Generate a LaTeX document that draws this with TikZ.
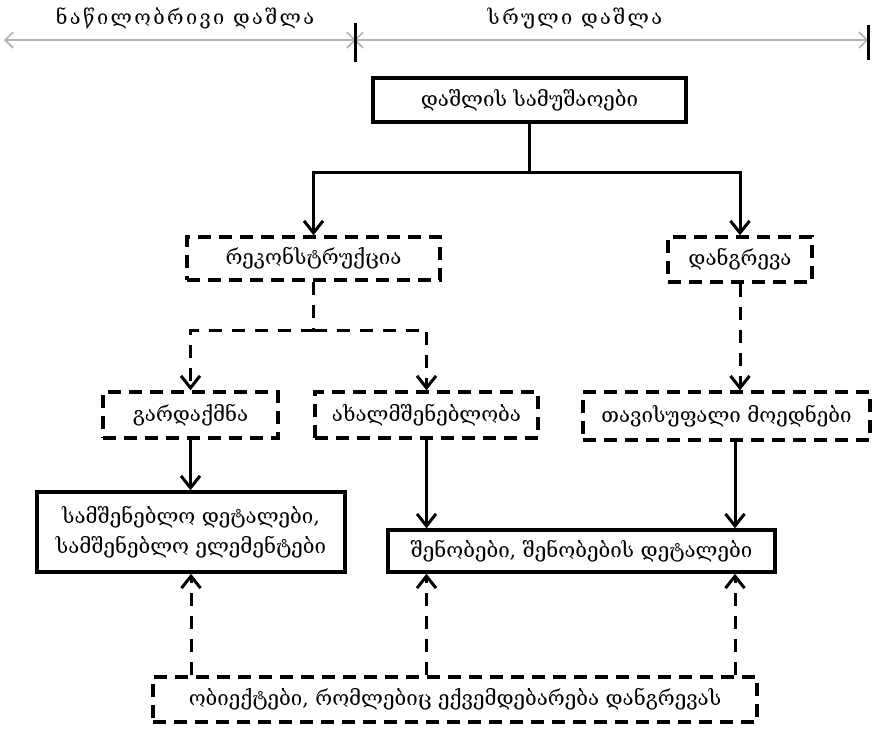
\documentclass[tikz,border=0pt]{standalone}
\usepackage{fontspec}
\setmainfont{DejaVu Serif}
\newfontfamily\spacedfont[LetterSpace=12]{DejaVu Serif}
\usetikzlibrary{arrows.meta}
\begin{document}
\begin{tikzpicture}[x=1pt,y=-1pt,
  solidbox/.style={draw=black,line width=3.4pt,rectangle,inner sep=0pt,font=\fontsize{20.5}{30}\selectfont,align=center},
  dashbox/.style={draw=black,line width=3.4pt,rectangle,inner sep=0pt,dash pattern=on 13pt off 8pt,font=\fontsize{20.5}{30}\selectfont,align=center},
  conn/.style={line width=3pt,-{Straight Barb[length=12pt,width=19pt,line width=3pt]}},
  dconn/.style={conn,dash pattern=on 13pt off 10pt},
  dline/.style={line width=3pt,dash pattern=on 13pt off 10pt},
  grayarrow/.style={gray!60,line width=2.6pt,-{Straight Barb[length=8pt,width=16pt,line width=1.6pt]}},
  tick/.style={line width=3pt},
  toplabel/.style={font=\spacedfont\fontsize{20}{26}\selectfont,inner sep=0pt}
]
\useasboundingbox (0,0) rectangle (873,729);
% top scale
\coordinate (L) at (4,40);
\coordinate (M) at (355,40);
\coordinate (R) at (868,40);
\draw[grayarrow] (M) -- (L);
\draw[grayarrow] ([xshift=10pt]M) -- ([xshift=-1pt]M);
\draw[grayarrow] ([xshift=-10pt]M) -- ([xshift=1pt]M);
\draw[grayarrow] (M) -- (R);
\draw[tick] ([yshift=-22pt]M) -- ([yshift=17pt]M);
\draw[tick] ([yshift=-20pt]R) -- ([yshift=15pt]R);
\node[toplabel] (lp) at (185,18) {ნაწილობრივი დაშლა};
\node[toplabel] (lf) at (575,18) {სრული დაშლა};
% boxes
\node[solidbox,minimum width=313pt,minimum height=44pt] (top) at (529.5,100) {დაშლის სამუშაოები};
\node[dashbox,minimum width=253pt,minimum height=43pt] (rek) at (313.5,258.5) {რეკონსტრუქცია};
\node[dashbox,minimum width=144pt,minimum height=45pt] (dan) at (740,259.5) {დანგრევა};
\node[dashbox,minimum width=175pt,minimum height=46pt] (gar) at (190.5,415) {გარდაქმნა};
\node[dashbox,minimum width=223pt,minimum height=46pt] (akh) at (426.5,415) {ახალმშენებლობა};
\node[dashbox,minimum width=287pt,minimum height=48pt] (tav) at (726.5,416) {თავისუფალი მოედნები};
\node[solidbox,minimum width=308pt,minimum height=80pt] (sam) at (191,532) {სამშენებლო დეტალები,\\სამშენებლო ელემენტები};
\node[solidbox,minimum width=387pt,minimum height=42pt] (shen) at (581.5,551) {შენობები, შენობების დეტალები};
\node[dashbox,minimum width=604pt,minimum height=45pt] (obi) at (455,699.5) {ობიექტები, რომლებიც ექვემდებარება დანგრევას};
% connectors
\coordinate (j1) at (top.south |- 0,172);
\draw[line width=3pt] (top.south) -- (j1);
\draw[conn] (j1) -| (rek.north);
\draw[conn] (j1) -| (dan.north);
\coordinate (j2) at (rek.south |- 0,330);
\draw[dline] (rek.south) -- (j2);
\draw[dconn] (j2) -| (gar.north);
\draw[dconn] (j2) -| (akh.north);
\draw[dconn] (dan.south) -- (dan.south |- tav.north);
\draw[conn] (gar.south) -- (gar.south |- sam.north);
\draw[conn] (akh.south) -- (akh.south |- shen.north);
\coordinate (tx) at ([xshift=8.5pt]tav.south);
\draw[conn] (tx) -- (tx |- shen.north);
\draw[dconn] (sam.south |- obi.north) -- (sam.south);
\draw[dconn] (akh.south |- obi.north) -- (akh.south |- shen.south);
\draw[dconn] (tx |- obi.north) -- (tx |- shen.south);
\end{tikzpicture}
\end{document}
